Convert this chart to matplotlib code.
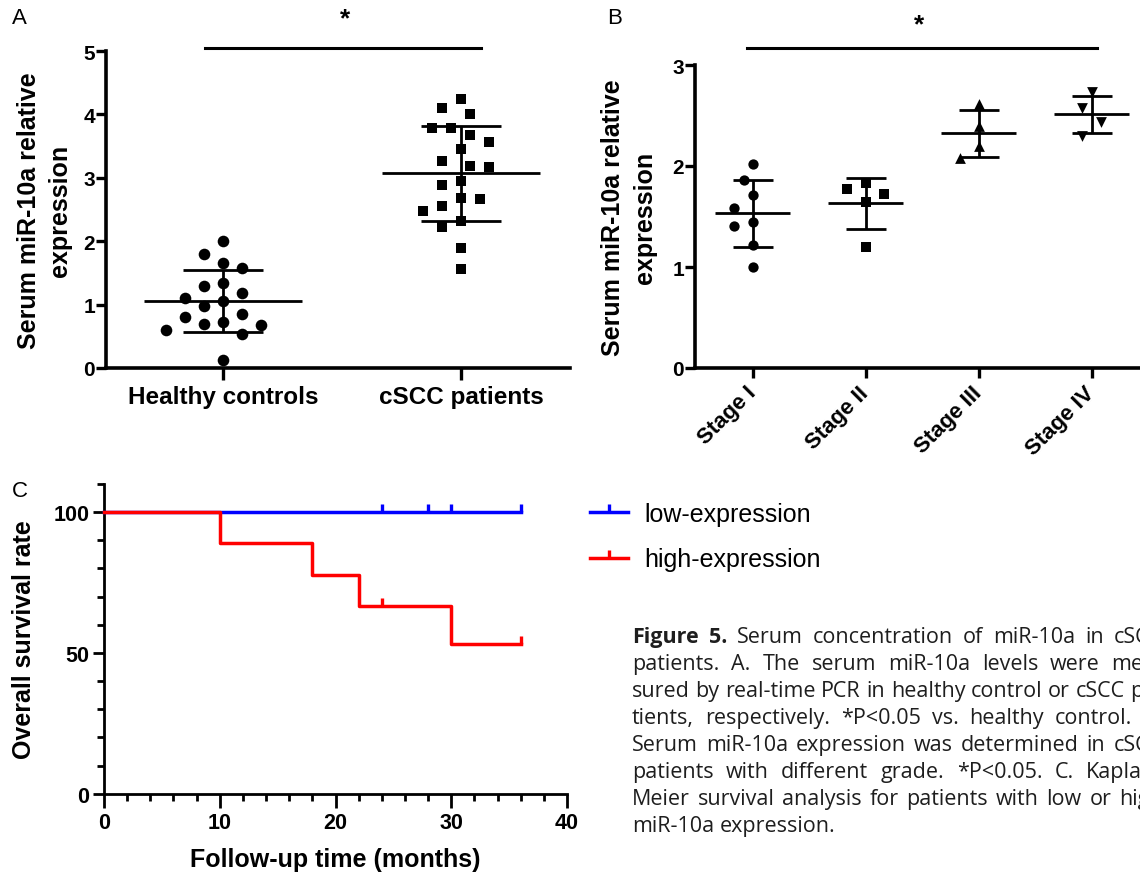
import matplotlib
matplotlib.use('Agg')
import matplotlib.pyplot as plt
import numpy as np
from matplotlib.path import Path
from matplotlib.lines import Line2D

# ---------------- data ----------------
groups_a = ['Healthy controls', 'cSCC patients']
healthy = [2.00, 1.80, 1.66, 1.58, 1.30, 1.34, 1.19, 1.06, 1.11, 0.98, 0.80, 0.85,
           0.73, 0.69, 0.68, 0.60, 0.53, 0.13]
cscc = [4.24, 4.10, 4.00, 3.78, 3.78, 3.68, 3.56, 3.45, 3.27, 3.17, 3.19, 2.95,
        2.89, 2.67, 2.68, 2.56, 2.47, 2.32, 2.22, 1.89, 1.56]
a_yticks = [0, 1, 2, 3, 4, 5]

stages = ['Stage I', 'Stage II', 'Stage III', 'Stage IV']
stage1 = [2.02, 1.86, 1.71, 1.58, 1.45, 1.41, 1.22, 1.00]
stage2 = [1.83, 1.77, 1.72, 1.64, 1.20]
stage3 = [2.61, 2.40, 2.20, 2.08]
stage4 = [2.73, 2.57, 2.44, 2.30]
b_yticks = [0, 1, 2, 3]

km_labels = ['low-expression', 'high-expression']
low_times = [24, 28, 30, 36, 36, 36, 36, 36, 36, 36, 36, 36]
low_events = [0, 0, 0, 0, 0, 0, 0, 0, 0, 0, 0, 0]
high_times = [10, 18, 22, 24, 30, 36, 36, 36, 36]
high_events = [1, 1, 1, 0, 1, 0, 0, 0, 0]
c_xticks = [0, 10, 20, 30, 40]
c_yticks = [0, 50, 100]

caption_lines = [
    [("Figure", True), ("5.", True), ("Serum", False), ("concentration", False), ("of", False),
     ("miR-10a", False), ("in", False), ("cSCC", False)],
    "patients. A. The serum miR-10a levels were mea-",
    "sured by real-time PCR in healthy control or cSCC pa-",
    "tients, respectively. *P<0.05 vs. healthy control. B.",
    "Serum miR-10a expression was determined in cSCC",
    "patients with different grade. *P<0.05. C. Kaplan-",
    "Meier survival analysis for patients with low or high",
    "miR-10a expression.",
]

# ---------------- style ----------------
plt.rcParams['font.family'] = ['Liberation Sans', 'DejaVu Sans']
W_PX, H_PX = 1140, 879
fig = plt.figure(figsize=(W_PX / 100, H_PX / 100), dpi=100)
renderer = fig.canvas.get_renderer()


def fbox(l, r, t, b):
    return [l / W_PX, 1 - b / H_PX, (r - l) / W_PX, (b - t) / H_PX]


def style_axes(ax, lw):
    for s in ['top', 'right']:
        ax.spines[s].set_visible(False)
    for s in ['left', 'bottom']:
        ax.spines[s].set_linewidth(lw)
        ax.spines[s].set_capstyle('projecting')


def swarm_offsets(ax, vals, min_dist_px, step_px):
    """simple beeswarm layout computed in display space"""
    t = ax.transData
    ppu = t.transform((1, 0))[0] - t.transform((0, 0))[0]
    ypx = [t.transform((0, v))[1] for v in vals]
    placed = []
    offs = np.zeros(len(vals))
    cands = [0] + [s * j for j in range(1, 30) for s in (-1, 1)]
    for i in np.argsort(vals, kind='stable')[::-1]:
        y = ypx[i]
        for c in cands:
            x = c * step_px
            if all((x - px) ** 2 + (y - py) ** 2 >= min_dist_px ** 2 for px, py in placed):
                break
        placed.append((x, y))
        offs[i] = x / ppu
    return offs


def mean_sd(ax, pos, vals, half=0.33, cap=0.17, lw=2.0):
    m = np.mean(vals)
    sd = np.std(vals, ddof=1)
    ax.plot([pos - half, pos + half], [m, m], color='black', lw=lw, zorder=5, solid_capstyle='butt')
    ax.plot([pos, pos], [m - sd, m + sd], color='black', lw=lw, zorder=5, solid_capstyle='butt')
    for yy in (m - sd, m + sd):
        ax.plot([pos - cap, pos + cap], [yy, yy], color='black', lw=lw, zorder=5, solid_capstyle='butt')


# ---------------- Panel A ----------------
axA = fig.add_axes(fbox(106, 570, 52, 369))
axA.set_xlim(-0.4916, 1.458)
axA.set_ylim(0, 5)
style_axes(axA, 2.6)
axA.set_yticks(a_yticks)
axA.set_yticklabels([str(v) for v in a_yticks], fontweight='bold', fontsize=15)
axA.set_xticks(range(len(groups_a)))
axA.set_xticklabels(groups_a, fontweight='bold', fontsize=17.5)
axA.tick_params(axis='y', length=7, width=2.4, pad=1)
axA.tick_params(axis='x', length=8.5, width=2.4, pad=3.5)
for i, (vals, mk, sz) in enumerate([(healthy, 'o', 70), (cscc, 's', 62)]):
    offs = swarm_offsets(axA, vals, 17.0, 9.5)
    axA.scatter(i + offs, vals, marker=mk, s=sz, color='black', linewidths=0, zorder=4, clip_on=False)
    mean_sd(axA, i, vals)
axA.set_ylabel('Serum miR-10a relative\nexpression', fontweight='bold', fontsize=18, linespacing=1.4)
axA.yaxis.set_label_coords(-0.073, 0.5)
axA.plot([-0.076, 1.084], [5.047, 5.047], color='black', lw=2.2, clip_on=False)
axA.text(0.513, 5.52, '*', ha='center', va='center', fontsize=19, fontweight='bold')

# ---------------- Panel B ----------------
axB = fig.add_axes(fbox(695, 1150, 66, 369))
axB.set_xlim(-0.511, 3.516)
axB.set_ylim(0, 3)
style_axes(axB, 2.6)
axB.set_yticks(b_yticks)
axB.set_yticklabels([str(v) for v in b_yticks], fontweight='bold', fontsize=15)
axB.set_xticks(range(len(stages)))
axB.set_xticklabels(stages, fontweight='bold', fontsize=16, rotation=45, ha='right',
                    va='center', rotation_mode='anchor')
axB.tick_params(axis='y', length=7, width=2.4, pad=1)
axB.tick_params(axis='x', length=7.5, width=2.4, pad=8)
for i, (vals, mk, sz) in enumerate([(stage1, 'o', 55), (stage2, 's', 50),
                                    (stage3, '^', 60), (stage4, 'v', 60)]):
    offs = swarm_offsets(axB, vals, 17.0, 9.2)
    axB.scatter(i + offs, vals, marker=mk, s=sz, color='black', linewidths=0, zorder=4, clip_on=False)
    mean_sd(axB, i, vals, half=0.33, cap=0.177)
axB.set_ylabel('Serum miR-10a relative\nexpression', fontweight='bold', fontsize=18, linespacing=1.4)
axB.yaxis.set_label_coords(-0.0835, 0.5)
axB.plot([-0.053, 3.044], [3.168, 3.168], color='black', lw=2.2, clip_on=False)
axB.text(1.47, 3.40, '*', ha='center', va='center', fontsize=19, fontweight='bold')

# ---------------- Panel C ----------------
axC = fig.add_axes(fbox(104, 567, 485, 794.7))
axC.set_xlim(0, 40)
axC.set_ylim(0, 110)
style_axes(axC, 2.0)
narrow = ['Liberation Sans Narrow', 'Liberation Sans', 'DejaVu Sans']
axC.set_xticks(c_xticks)
axC.set_xticklabels([str(v) for v in c_xticks], fontweight='bold', fontsize=15.5, family=narrow)
axC.set_yticks(c_yticks)
axC.set_yticklabels([str(v) for v in c_yticks], fontweight='bold', fontsize=15.5, family=narrow)
axC.set_xticks(np.arange(0, 41, 2), minor=True)
axC.set_yticks(np.arange(0, 111, 10), minor=True)
axC.tick_params(axis='x', which='major', length=9.8, width=2.0, pad=3.5)
axC.tick_params(axis='y', which='major', length=7.7, width=2.0, pad=3.0)
axC.tick_params(which='minor', length=5.1, width=2.0)

cens_path = Path([(0, 0), (0, 1)], [Path.MOVETO, Path.LINETO])


def km_curve(times, events):
    times = np.asarray(times)
    events = np.asarray(events)
    xs, ys, cx, cy = [0.0], [100.0], [], []
    s = 1.0
    for t in np.unique(times):
        n = np.sum(times >= t)
        d = np.sum((times == t) & (events == 1))
        if d > 0:
            s *= 1 - d / n
        xs.append(t)
        ys.append(100 * s)
        if np.any((times == t) & (events == 0)):
            cx.append(t)
            cy.append(100 * s)
    return xs, ys, cx, cy


handles = []
for times, events, col in [(low_times, low_events, '#0000ff'), (high_times, high_events, '#ff0000')]:
    xs, ys, cx, cy = km_curve(times, events)
    axC.step(xs, ys, where='post', color=col, lw=2.5, zorder=3, clip_on=False)
    axC.plot(cx, cy, linestyle='none', marker=cens_path, ms=12, mew=2.4, color=col, zorder=3,
             clip_on=False)
    handles.append(Line2D([], [], color=col, lw=2.5, marker=cens_path, ms=12, mew=2.4))

axC.set_ylabel('Overall survival rate', fontweight='bold', fontsize=18)
axC.yaxis.set_label_coords(-0.147, 0.5)
axC.set_xlabel('Follow-up time (months)', fontweight='bold', fontsize=18)
axC.xaxis.set_label_coords(0.5, -0.172)

fig.legend(handles, km_labels, loc='upper left', bbox_to_anchor=(590 / W_PX, 1 - 503 / H_PX),
           frameon=False, fontsize=18, handlelength=1.5, handletextpad=0.68,
           labelspacing=0.86, borderpad=0, borderaxespad=0, numpoints=1)

# ---------------- panel letters ----------------
for lab, x, y in [('A', 12, 8), ('B', 607, 8), ('C', 12, 481)]:
    fig.text(x / W_PX, 1 - y / H_PX, lab, ha='left', va='top', fontsize=16)

# ---------------- caption (justified) ----------------
cap_family = ['Open Sans', 'DejaVu Sans']
cap_color = '#1e1e1e'


def text_w(s, size, bold=False):
    t = fig.text(0, 0, s, fontsize=size, fontweight='bold' if bold else 'normal', family=cap_family)
    w = t.get_window_extent(renderer).width
    t.remove()
    return w


base = 12.0
cap_size = base * 508.0 / text_w('sured by real-time PCR in healthy control or cSCC p', base)
full_w = text_w('sured by real-time PCR in healthy control or cSCC pa-', cap_size)
x0 = 632.0
baseline0 = 643.0
line_step = 27.0
for li, line in enumerate(caption_lines):
    if isinstance(line, str):
        words = [(w, False) for w in line.split(' ')]
    else:
        words = line
    widths = [text_w(w, cap_size, b) for w, b in words]
    if li == len(caption_lines) - 1:
        gap = text_w('a b', cap_size) - text_w('ab', cap_size)
    else:
        gap = (full_w - sum(widths)) / (len(words) - 1)
    x = x0
    yb = baseline0 + li * line_step
    for (w, b), wd in zip(words, widths):
        fig.text(x / W_PX, 1 - yb / H_PX, w, ha='left', va='baseline', fontsize=cap_size,
                 fontweight='bold' if b else 'normal', family=cap_family, color=cap_color)
        x += wd + gap

fig.savefig('out.png', dpi=100)
